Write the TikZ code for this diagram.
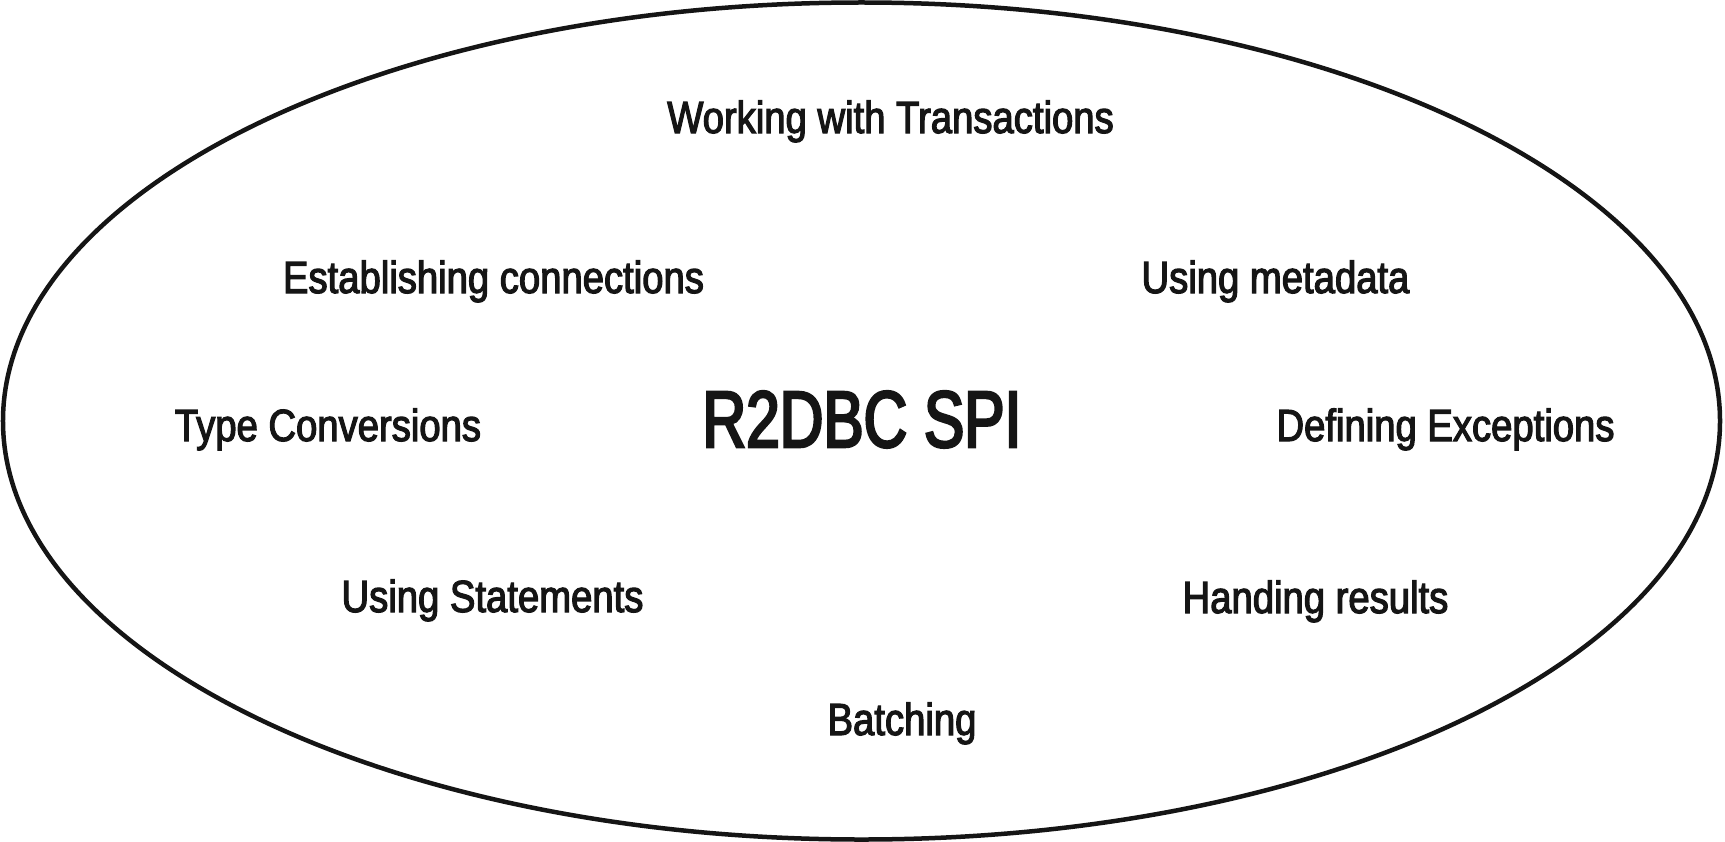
\documentclass[tikz,border=0pt]{standalone}
\usepackage{fontspec}
\newfontfamily\lblfont[FakeStretch=0.85,FakeBold=2.6]{Liberation Sans}
\newfontfamily\titlefont[FakeStretch=0.755,FakeBold=3.2]{Liberation Sans}
\definecolor{ink}{HTML}{151515}
\tikzset{
  lbl/.style={anchor=base, inner sep=0pt, text=ink, font=\lblfont\fontsize{45bp}{50bp}\selectfont},
  ttl/.style={anchor=base, inner sep=0pt, text=ink, font=\titlefont\fontsize{80bp}{88bp}\selectfont},
  rim/.style={draw=ink, line width=4.5bp}
}
\begin{document}
\begin{tikzpicture}[x=1bp,y=-1bp]
\useasboundingbox (0,0) rectangle (1725,842);
\coordinate (c) at (861.5,421);
\draw[rim] (c) ellipse [x radius=858.5bp, y radius=418.5bp];
\node[lbl] (trans) at (890.5,133) {Working with Transactions};
\node[lbl] (conn)  at (493.5,293) {Establishing connections};
\node[lbl] (meta)  at (1275.5,293) {Using metadata};
\node[lbl] (types) at (328,441) {Type Conversions};
\node[ttl] (spi)   at (862,447) {R2DBC SPI};
\node[lbl] (exc)   at (1445.5,441) {Defining Exceptions};
\node[lbl] (stmt)  at (492.5,612) {Using Statements};
\node[lbl] (res)   at (1315.5,613) {Handing results};
\node[lbl] (batch) at (902,735) {Batching};
\end{tikzpicture}
\end{document}
